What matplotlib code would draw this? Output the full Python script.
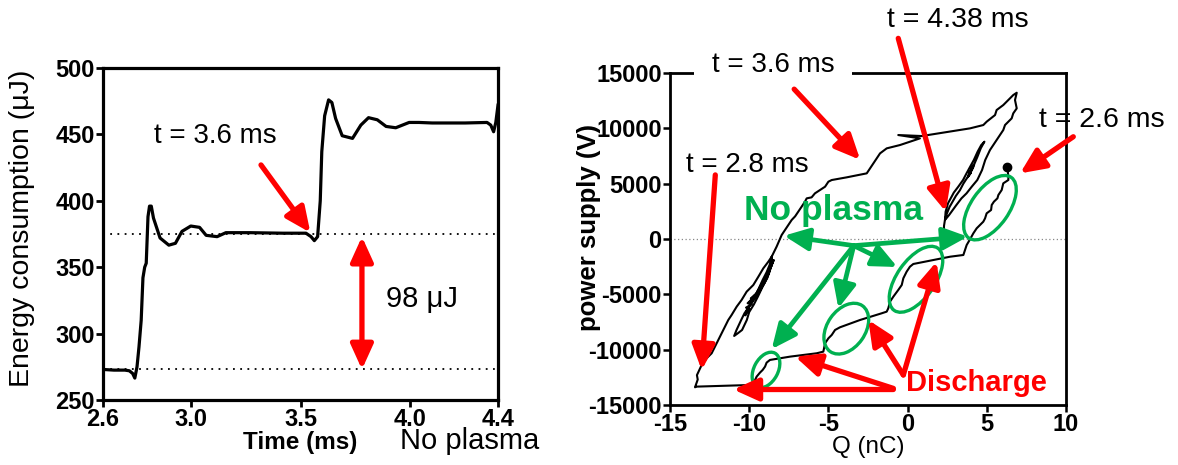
import matplotlib
matplotlib.use('Agg')
import matplotlib.pyplot as plt
from matplotlib.patches import Ellipse
import matplotlib.transforms as mtransforms

plt.rcParams['font.family'] = ['Liberation Sans', 'DejaVu Sans']
plt.rcParams['axes.unicode_minus'] = False

# ---------------- Left panel data ----------------
time_ms = [2.60, 2.65, 2.70, 2.72, 2.735, 2.745, 2.755, 2.764, 2.774, 2.782, 2.79, 2.797,
           2.805, 2.812, 2.82, 2.83, 2.86, 2.90, 2.93, 2.96, 3.00, 3.04, 3.07, 3.12, 3.16,
           3.27, 3.42, 3.525, 3.548, 3.563, 3.578, 3.59, 3.597, 3.61, 3.628, 3.643, 3.66,
           3.69, 3.737, 3.775, 3.81, 3.85, 3.89, 3.934, 3.995, 4.04, 4.10, 4.25, 4.35,
           4.367, 4.38, 4.39, 4.40]
energy_uJ = [273, 272.5, 272.5, 272, 270, 266.5, 275, 290, 310, 342, 350, 353,
             388, 396, 396, 387, 372, 366.6, 368, 377, 381, 380, 374, 373, 376,
             376, 375.6, 375.6, 373, 370, 373, 400, 437, 464, 476, 474, 462,
             449, 447, 457, 462.6, 461, 456, 455, 459, 459, 458.6, 458.6, 459,
             457, 452, 459, 472]
level_plasma = 375
level_no_plasma = 273
left_xticks = [2.6, 3.0, 3.5, 4.0, 4.4]
left_xticklabels = ['2.6', '3.0', '3.5', '4.0', '4.4']
left_yticks = [250, 300, 350, 400, 450, 500]

# ---------------- Right panel data (Q in nC, V in volts) ----------------
# discharge staircase, t = 2.6 ms -> 2.8 ms
q_down = [6.30, 6.36, 6.36, 6.04, 5.94, 5.73, 5.67, 5.45, 5.31, 5.27, 4.99, 4.89, 4.78,
          4.57, 4.36, 4.15, 3.94, 3.73, 3.52, 2.68, 0.36, 0.15, -0.06, -0.27, -0.37,
          -0.59, -0.90, -1.11, -1.22, -1.32, -1.64, -3.00, -4.27, -4.58, -4.79, -5.00,
          -5.21, -5.32, -5.74, -7.42, -8.06, -8.69, -8.90, -9.00, -9.15, -9.32, -9.53,
          -9.63, -9.84, -13.32, -13.42]
v_down = [6474, 5630, 5330, 5029, 4427, 3975, 3674, 3373, 3072, 2620, 2319, 1867, 1566,
          1265, 964, 512, -29, -541, -1445, -1600, -2258, -2499, -2950, -3553, -4155,
          -4607, -5209, -5660, -6263, -6564, -6715, -7317, -7979, -8220, -8672, -8973,
          -9424, -10177, -10327, -10629, -10779, -10929, -11170, -11532, -11833, -12074,
          -12435, -12736, -13188, -13339, -13399]
# rise along the left diagonal from t = 2.8 ms
q_left_up = [-13.35, -13.25, -13.30, -13.15, -13.00, -12.69, -12.37, -12.16, -11.95,
             -11.74, -11.53, -11.32, -11.11, -10.79, -10.48, -10.16, -9.74, -9.42,
             -9.11, -8.79, -8.58]
v_left_up = [-13100, -12700, -12300, -11833, -11381, -10779, -10327, -9725, -9123,
             -8521, -7919, -7317, -6865, -6112, -5510, -4757, -4155, -3402,
             -2650, -2047, -1596]
# ringing on the left diagonal (2.8 ms -> 3.6 ms)
q_ring_left = [-8.55, -8.75, -9.05, -9.30, -9.65, -9.95, -10.30, -10.50, -10.80, -10.95,
               -10.70, -10.45, -10.15, -10.00, -9.70, -9.45, -9.15, -8.85, -8.70, -8.45,
               -8.65, -8.90, -9.20, -9.50, -9.75, -10.10, -10.25, -10.00, -10.20, -9.85,
               -10.10, -9.70, -10.00, -9.65, -9.90, -9.55, -9.40, -9.15, -8.90, -8.70,
               -8.58]
v_ring_left = [-2198, -3101, -4004, -4600, -5359, -6000, -6714, -7300, -8220, -8762,
               -8500, -8220, -7317, -6600, -5900, -5200, -4300, -3500, -2800, -1897,
               -2600, -3300, -4000, -4800, -5500, -6300, -6900, -6300, -6200, -5900,
               -5800, -5300, -5700, -5100, -5400, -4900, -4500, -3700, -3000, -2300,
               -1596]
# staircase rise at t = 3.6 ms
q_up = [-8.27, -7.95, -7.74, -7.53, -7.32, -7.10, -6.90, -6.69, -6.48, -6.37, -6.06,
        -5.85, -5.53, -5.21, -5.00, -4.79, -3.85, -2.58, -2.16, -1.74, -1.32, -0.48,
        0.78, -0.59, 0.89, 3.94, 4.78, 4.99, 5.52, 5.62, 6.04, 6.36, 6.67, 6.89]
v_up = [-693, 361, 813, 1264, 1716, 2050, 2469, 2921, 3372, 3673, 3764,
        4125, 4426, 4727, 5179, 5329, 5570, 5932, 6835, 7738, 8190, 8491,
        9093, 9394, 9304, 9997, 10298, 10599, 11201, 11653, 12104, 12556, 13007, 13218]
# ringing down the right diagonal, ending at t = 4.38 ms
q_ring_right = [6.78, 6.89, 6.67, 6.57, 6.36, 6.15, 6.04, 5.83, 5.62, 5.41, 5.20, 5.05,
                4.90, 4.70, 4.40, 4.05, 3.72, 3.40, 3.08, 2.85, 2.62, 2.36, 2.40, 2.55,
                2.72, 2.92, 3.20, 3.50, 3.72, 3.95, 4.18, 4.42, 4.65, 4.85, 4.62, 4.40,
                4.22, 4.00, 4.20, 3.90, 4.15, 3.85, 4.08, 3.80, 4.00, 3.70, 3.52, 3.30,
                3.05, 2.85, 2.65, 2.48, 2.36, 2.30, 2.28]
v_ring_right = [12556, 11803, 11352, 10900, 10599, 10298, 9846, 9394, 8943, 8491, 8040,
                7588, 7136, 6233, 5330, 4728, 4125, 3674, 3072, 2620, 2168, 1717, 2470,
                3222, 3674, 4200, 4728, 5330, 5932, 6534, 7136, 7889, 8492, 8793, 8200,
                7400, 6800, 6300, 6700, 6000, 6500, 5800, 6300, 5600, 6000, 5400, 5000,
                4400, 3900, 3400, 2900, 2300, 1750, 1200, 450]
start_point = (6.30, 6474)
right_ticks_x = [-15, -10, -5, 0, 5, 10]
right_ticks_y = [-15000, -10000, -5000, 0, 5000, 10000, 15000]

# ---------------- Figure ----------------
W, H = 1178, 465
fig = plt.figure(figsize=(W / 100, H / 100), dpi=100)

RED = '#ff0000'
GREEN = '#00b050'

# ----- Left axes -----
axL = fig.add_axes([103 / W, 65 / H, 395 / W, 332 / H])
axL.plot(time_ms, energy_uJ, color='black', lw=2.3, solid_joinstyle='round')
axL.axhline(level_plasma, color='black', lw=1.3, ls=(0, (1, 3)))
axL.axhline(level_no_plasma, color='black', lw=1.3, ls=(0, (1, 3)))
axL.set_xlim(2.6, 4.4)
axL.set_ylim(250, 500)
axL.set_xticks(left_xticks)
axL.set_xticklabels(left_xticklabels)
axL.set_yticks(left_yticks)
for s in axL.spines.values():
    s.set_linewidth(2.3)
axL.tick_params(direction='out', length=5, width=2, labelsize=17, pad=1)
for lab in axL.get_xticklabels() + axL.get_yticklabels():
    lab.set_fontweight('bold')
axL.set_xlabel('Time (ms)', fontsize=17.5, fontweight='bold', labelpad=0)
axL.set_ylabel('Energy consumption (μJ)', fontsize=20.5)
axL.yaxis.set_label_coords(-0.171, 0.518)

arrow_red = dict(arrowstyle='-|>,head_length=0.75,head_width=0.34', color=RED, lw=3.8,
                 mutation_scale=20, shrinkA=0, shrinkB=0)
axL.annotate('', xy=(3.545, 376), xytext=(3.32, 427), arrowprops=arrow_red)
axL.text(3.11, 449, 't = 3.6 ms', fontsize=20, ha='center', va='center')
axL.annotate('', xy=(3.78, level_no_plasma), xytext=(3.78, level_plasma - 2),
             arrowprops=dict(arrowstyle='<|-|>,head_length=0.75,head_width=0.34',
                             color=RED, lw=3.8, mutation_scale=20, shrinkA=0, shrinkB=0))
axL.text(3.89, 326, '98 μJ', fontsize=21, ha='left', va='center')

fig.text(400 / W, 1 - 441 / H, 'No plasma', fontsize=21, ha='left', va='center')

# ----- Right axes -----
axR = fig.add_axes([670 / W, 60 / H, 396 / W, 332 / H])
q_all = q_down + q_left_up + q_ring_left + q_up + q_ring_right
v_all = v_down + v_left_up + v_ring_left + v_up + v_ring_right
axR.axhline(0, color='#888888', lw=0.9, ls=(0, (1, 2)))
axR.plot(q_all, v_all, color='black', lw=1.5, solid_joinstyle='round')
axR.plot([start_point[0]], [start_point[1]], 'o', color='black', ms=6)
axR.set_xlim(-15, 10)
axR.set_ylim(-15000, 15000)
axR.set_xticks(right_ticks_x)
axR.set_yticks(right_ticks_y)
for s in axR.spines.values():
    s.set_linewidth(2.0)
axR.tick_params(direction='out', length=5, width=1.8, labelsize=17, pad=1)
for lab in axR.get_xticklabels() + axR.get_yticklabels():
    lab.set_fontweight('bold')
axR.set_xlabel('Q (nC)', fontsize=17.5, labelpad=0)
axR.set_ylabel('power supply (V)', fontsize=18.5, fontweight='bold')
axR.yaxis.set_label_coords(-0.175, 0.535)

# green ellipses (center in data, size in pixels)
ellipses = [((5.2, 2830), 74, 38, 55), ((0.53, -3640), 76, 38, 55),
            ((-3.87, -8100), 56, 38, 55), ((-8.94, -11830), 38, 24, 62)]
for (cx, cy), w, h, ang in ellipses:
    tr = mtransforms.IdentityTransform() + mtransforms.ScaledTranslation(cx, cy, axR.transData)
    axR.add_patch(Ellipse((0, 0), w, h, angle=ang, transform=tr, fill=False,
                          edgecolor=GREEN, lw=2.4, zorder=4))

arrow_green = dict(arrowstyle='-|>,head_length=0.75,head_width=0.34', color=GREEN, lw=3.4,
                   mutation_scale=20, shrinkA=0, shrinkB=0)
hub = (-3.4, -600)
for tgt in [(-7.8, 300), (3.8, 210), (-0.65, -2530), (-4.37, -6263), (-8.58, -9950)]:
    axR.annotate('', xy=tgt, xytext=hub, arrowprops=arrow_green, zorder=5)
axR.text(-10.3, 2550, 'No plasma', color=GREEN, fontsize=25.5, fontweight='bold',
         ha='left', va='center', zorder=6)

# red discharge arrows
for src, tgt in [((-0.9, -13600), (-11.0, -13600)), ((-0.9, -13500), (-7.1, -10629)),
                 ((-0.27, -12285), (-2.48, -7317)), ((-0.27, -12285), (1.83, -2047))]:
    axR.annotate('', xy=tgt, xytext=src, arrowprops=arrow_red, zorder=5)
axR.text(-0.07, -13050, 'Discharge', color=RED, fontsize=21, fontweight='bold',
         ha='left', va='center', zorder=6)

# time labels
axR.text(-8.5, 15700, 't = 3.6 ms', fontsize=20, ha='center', va='center', zorder=6,
         clip_on=False, bbox=dict(facecolor='white', edgecolor='none', pad=13))
axR.annotate('', xy=(-2.99, 7150), xytext=(-7.16, 13540), arrowprops=arrow_red,
             annotation_clip=False, zorder=7)
axR.text(-10.1, 6690, 't = 2.8 ms', fontsize=20, ha='center', va='center', zorder=6)
axR.annotate('', xy=(-13.0, -11850), xytext=(-12.14, 5790), arrowprops=arrow_red,
             annotation_clip=False, zorder=5)
axR.text(3.15, 19800, 't = 4.38 ms', fontsize=20.5, ha='center', va='center', clip_on=False)
axR.annotate('', xy=(2.41, 2470), xytext=(-0.59, 18130), arrowprops=arrow_red,
             annotation_clip=False, zorder=5)
axR.text(8.3, 10750, 't = 2.6 ms', fontsize=20.5, ha='left', va='center', clip_on=False,
         zorder=1)
axR.annotate('', xy=(7.1, 5930), xytext=(10.46, 9240), arrowprops=arrow_red,
             annotation_clip=False, zorder=5)

fig.savefig('out.png', dpi=100)
